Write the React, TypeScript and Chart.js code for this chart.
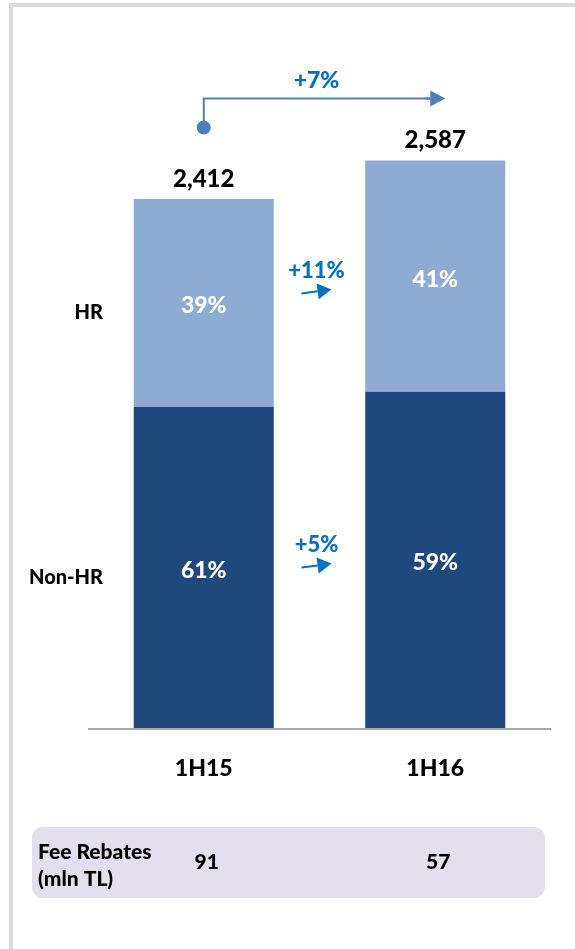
import React, { useEffect, useRef } from "react";
import { Chart, registerables } from "chart.js";

Chart.register(...registerables);

const categories = ["1H15", "1H16"];
const seriesNames = ["Non-HR", "HR"];
const nonHrValues = [1465, 1533];
const hrValues = [947, 1054];
const segmentGrowth = ["+5%", "+11%"]; // Non-HR, HR
const totalGrowth = "+7%";
const feeRebatesLabel = ["Fee Rebates", "(mln TL)"];
const feeRebates = [91, 57];

const FONT = "Lato, 'Open Sans', 'DejaVu Sans', sans-serif";
const W = "900";
const DARK = "#1f497d";
const LIGHT = "#8eabd3";
const BLUE_TEXT = "#0070c0";
const BRACKET = "#4a7ebb";

function arrow(ctx: CanvasRenderingContext2D, x1: number, y1: number, x2: number, y2: number, color: string, head: number, half: number, lw: number) {
  const ang = Math.atan2(y2 - y1, x2 - x1);
  const bx = x2 - head * Math.cos(ang);
  const by = y2 - head * Math.sin(ang);
  ctx.save();
  ctx.strokeStyle = color;
  ctx.fillStyle = color;
  ctx.lineWidth = lw;
  ctx.beginPath();
  ctx.moveTo(x1, y1);
  ctx.lineTo(bx, by);
  ctx.stroke();
  ctx.beginPath();
  ctx.moveTo(x2, y2);
  ctx.lineTo(bx + half * Math.sin(ang), by - half * Math.cos(ang));
  ctx.lineTo(bx - half * Math.sin(ang), by + half * Math.cos(ang));
  ctx.closePath();
  ctx.fill();
  ctx.restore();
}

const annotPlugin = {
  id: "annot",
  beforeDraw(chart: any) {
    const ctx = chart.ctx as CanvasRenderingContext2D;
    ctx.save();
    ctx.fillStyle = "#dcdcdc";
    ctx.fillRect(9, 3, chart.width - 9, 4);
    ctx.fillRect(9, 3, 4, chart.height - 3);
    ctx.restore();
  },
  afterDatasetsDraw(chart: any) {
    const ctx = chart.ctx as CanvasRenderingContext2D;
    const area = chart.chartArea;
    const yScale = chart.scales.y;
    const xScale = chart.scales.x;
    const metas = [chart.getDatasetMeta(0), chart.getDatasetMeta(1)];
    const dataArrays = [nonHrValues, hrValues];
    const totals = categories.map((_, i) => nonHrValues[i] + hrValues[i]);

    ctx.save();
    // baseline
    ctx.strokeStyle = "#a6a6a6";
    ctx.lineWidth = 2;
    ctx.beginPath();
    ctx.moveTo(area.left, area.bottom + 1);
    ctx.lineTo(area.right, area.bottom + 1);
    ctx.stroke();

    ctx.textAlign = "center";
    ctx.textBaseline = "middle";

    // percent labels inside segments
    ctx.fillStyle = "#ffffff";
    ctx.font = `${W} 23px ${FONT}`;
    metas.forEach((meta, d) => {
      meta.data.forEach((el: any, i: number) => {
        const pct = Math.round((dataArrays[d][i] / totals[i]) * 100);
        const cy = (el.y + el.base) / 2 + 3;
        ctx.fillText(`${pct}%`, el.x, cy);
      });
    });

    // totals above bars
    ctx.fillStyle = "#000000";
    ctx.font = `${W} 24px ${FONT}`;
    categories.forEach((_, i) => {
      const x = xScale.getPixelForValue(i);
      const y = yScale.getPixelForValue(totals[i]) - 20;
      ctx.fillText(totals[i].toLocaleString("en-US"), x, y);
    });

    // category labels
    ctx.font = `${W} 23px ${FONT}`;
    categories.forEach((c, i) => {
      ctx.fillText(c, xScale.getPixelForValue(i), area.bottom + 41);
    });

    // series labels (left)
    ctx.textAlign = "right";
    ctx.font = `${W} 20px ${FONT}`;
    metas.forEach((meta, d) => {
      const el: any = meta.data[0];
      const cy = (el.y + el.base) / 2 + 10;
      ctx.fillText(seriesNames[d], area.left + 15, cy);
    });

    // segment growth arrows
    const x0 = xScale.getPixelForValue(0);
    const x1 = xScale.getPixelForValue(1);
    const mx = (x0 + x1) / 2 - 3;
    ctx.textAlign = "center";
    ctx.font = `${W} 22px ${FONT}`;
    ctx.fillStyle = BLUE_TEXT;
    metas.forEach((meta, d) => {
      const c0 = ((meta.data[0] as any).y + (meta.data[0] as any).base) / 2;
      const c1 = ((meta.data[1] as any).y + (meta.data[1] as any).base) / 2;
      const yc = (c0 + c1) / 2 + 2;
      ctx.fillText(segmentGrowth[d], mx, yc - 21);
      arrow(ctx, mx - 15, yc + 2, mx + 15, yc - 2, BLUE_TEXT, 14, 8, 2);
    });

    // total growth bracket
    const yTop = Math.min(...totals.map((t) => yScale.getPixelForValue(t)));
    const dotY = yTop - 33;
    const lineY = yTop - 62;
    ctx.strokeStyle = BRACKET;
    ctx.fillStyle = BRACKET;
    ctx.lineWidth = 2;
    ctx.beginPath();
    ctx.moveTo(x0, dotY);
    ctx.lineTo(x0, lineY);
    ctx.lineTo(x1 - 5, lineY);
    ctx.stroke();
    arrow(ctx, x1 - 10, lineY, x1 + 10, lineY, BRACKET, 15, 8, 2);
    ctx.beginPath();
    ctx.arc(x0, dotY, 7, 0, Math.PI * 2);
    ctx.fill();
    ctx.fillStyle = BLUE_TEXT;
    ctx.font = `${W} 23px ${FONT}`;
    ctx.fillText(totalGrowth, mx, lineY - 18);

    // fee rebates box
    const boxTop = area.bottom + 99;
    const boxBottom = area.bottom + 170;
    ctx.fillStyle = "#e4dfec";
    ctx.beginPath();
    (ctx as any).roundRect(32, boxTop, 513, boxBottom - boxTop, 11);
    ctx.fill();
    ctx.fillStyle = "#000000";
    ctx.textAlign = "left";
    ctx.textBaseline = "alphabetic";
    ctx.font = `${W} 21px ${FONT}`;
    ctx.fillText(feeRebatesLabel[0], 38, boxTop + 32);
    ctx.fillText(feeRebatesLabel[1], 38, boxTop + 59);
    ctx.textAlign = "center";
    ctx.textBaseline = "middle";
    ctx.font = `${W} 21px ${FONT}`;
    feeRebates.forEach((v, i) => {
      ctx.fillText(String(v), xScale.getPixelForValue(i) + 3, boxTop + 35);
    });

    ctx.restore();
  },
};

export default function App() {
  const canvasRef = useRef<HTMLCanvasElement | null>(null);

  useEffect(() => {
    if (!canvasRef.current) return;
    const chart = new Chart(canvasRef.current, {
      type: "bar",
      data: {
        labels: categories,
        datasets: [
          {
            label: seriesNames[0],
            data: nonHrValues,
            backgroundColor: DARK,
            barPercentage: 0.605,
            categoryPercentage: 1,
          },
          {
            label: seriesNames[1],
            data: hrValues,
            backgroundColor: LIGHT,
            barPercentage: 0.605,
            categoryPercentage: 1,
          },
        ],
      },
      options: {
        responsive: false,
        animation: false,
        layout: { padding: { left: 88, right: 24, top: 70, bottom: 221 } },
        plugins: { legend: { display: false }, tooltip: { enabled: false } },
        scales: {
          x: { display: false, stacked: true },
          y: { display: false, stacked: true, min: 0, max: 3000 },
        },
      },
      plugins: [annotPlugin],
    });
    return () => chart.destroy();
  }, []);

  return (
    <div style={{ position: "absolute", left: 0, top: 0, width: 575, height: 949, background: "#ffffff" }}>
      <canvas ref={canvasRef} width={575} height={949} style={{ width: 575, height: 949, display: "block" }} />
    </div>
  );
}
